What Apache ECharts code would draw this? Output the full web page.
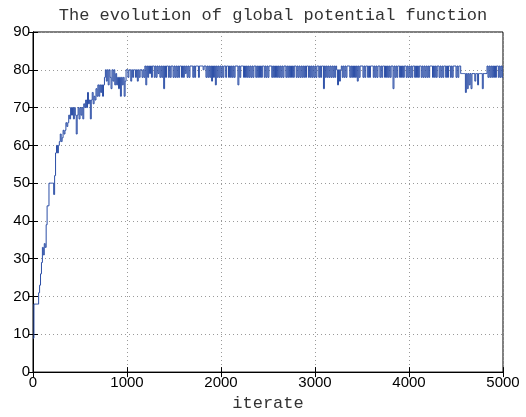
<!DOCTYPE html>
<html>
<head>
<meta charset="utf-8">
<script src="https://cdn.jsdelivr.net/npm/echarts@6/dist/echarts.min.js"></script>
<style>
html,body{margin:0;padding:0;background:#fff;}
#chart{width:526px;height:417px;}
</style>
</head>
<body>
<div id="chart"></div>
<script>
// Chart text
const titleText = "The evolution of global potential function";
const xName = "iterate";
// Axis ticks
const xTicks = [0, 1000, 2000, 3000, 4000, 5000];
const yTicks = [0, 10, 20, 30, 40, 50, 60, 70, 80, 90];
// Potential value read every 10 iterations (iteration 0 .. 5000)
const sampleStep = 10;
const potential = [
  // 0 - 490
  9,18,18,18,18,18,21,23,26,29, 33,31,34,33,39,44,44,50,50,50,
  50,50,47,52,58,60,58,60,61,63, 61,62,64,63,64,66,65,66,68,67,
  70,68,70,67,70,68,63,68,70,67,
  // 500 - 990
  70,68,70,67,71,70,72,70,74,71, 72,67,72,74,71,73,72,75,73,76,
  73,76,74,76,73,76,78,80,77,80, 76,80,78,75,80,77,80,76,79,76,
  78,75,78,73,78,76,78,73,77,80,
  // 1000 - 1490
  80,78,80,80,77,80,78,80,80,78, 80,77,80,78,80,80,78,80,78,81,
  76,81,78,81,79,81,78,81,81,78, 81,78,81,79,81,78,81,78,81,75,
  81,78,81,81,78,81,78,81,81,78,
  // 1500 - 1990
  81,78,81,78,81,78,81,81,78,81, 78,81,79,81,78,81,78,81,81,81,
  78,81,78,81,81,81,78,81,81,81, 81,80,81,81,78,81,78,81,78,81,
  77,81,78,81,76,81,78,81,78,81,
  // 2000 - 2490
  78,81,78,81,81,78,81,81,78,81, 78,81,78,81,78,81,81,81,76,81,
  78,81,81,81,78,81,78,81,78,81, 78,81,78,81,78,81,81,78,81,78,
  81,78,81,78,81,81,78,81,78,81,
  // 2500 - 2990
  78,81,81,81,78,81,78,81,78,81, 78,81,78,81,78,81,78,81,81,78,
  81,78,81,78,81,78,81,78,81,81, 78,81,78,81,78,81,78,81,78,81,
  78,81,81,78,81,78,81,78,81,78,
  // 3000 - 3490
  81,78,81,81,78,81,78,81,81,75, 81,78,81,78,81,78,81,78,81,78,
  81,78,81,80,76,80,77,80,81,78, 81,78,81,78,81,81,81,78,81,78,
  81,78,81,78,81,77,81,78,81,81,
  // 3500 - 3990
  81,78,81,78,81,81,78,81,78,81, 81,81,78,81,78,81,78,81,81,78,
  81,78,81,81,78,81,78,81,78,81, 78,81,81,75,81,78,81,78,81,81,
  78,81,78,81,78,81,81,78,81,78,
  // 4000 - 4490
  81,78,81,78,81,81,78,81,78,81, 78,81,81,78,81,78,81,78,81,78,
  81,78,81,81,81,78,81,78,81,78, 81,81,78,81,78,81,78,81,81,78,
  81,78,81,81,78,81,78,81,81,81,
  // 4500 - 4990
  78,81,78,81,81,79,79,79,79,79, 74,79,75,79,76,79,75,79,79,79,
  77,79,79,76,79,79,79,79,75,79, 79,79,79,81,78,81,78,81,78,81,
  78,81,78,81,81,78,81,78,81,78,
  // 5000
  81
];

// Each item: [iteration, value, next iteration, next value] -> one step of the line
const stepData = potential.slice(0, -1).map((v, i) => [i * sampleStep, v, (i + 1) * sampleStep, potential[i + 1]]);

const lineColor = '#2b4ea6';
const chart = echarts.init(document.getElementById('chart'), null, {renderer: 'canvas'});
const labelFont = {color: '#000', fontSize: 15, fontFamily: 'Liberation Sans, Arial, sans-serif'};
const dotted = {show: true, lineStyle: {color: '#9a9a9a', width: 1, type: [1, 3]}};
const tickStyle = {show: true, inside: true, length: 5, lineStyle: {color: '#000', width: 1}};
const lineStyle = {show: true, lineStyle: {color: '#000', width: 1}};

chart.setOption({
  animation: false,
  backgroundColor: '#fff',
  title: {
    text: titleText,
    left: 268,
    textAlign: 'center',
    top: 2,
    textStyle: {fontFamily: 'Liberation Mono, monospace', fontSize: 17, fontWeight: 'normal', color: '#333'}
  },
  grid: {left: 33, right: 23, top: 32, bottom: 41, show: true, borderColor: '#000', borderWidth: 1, backgroundColor: '#fff'},
  xAxis: [{
    type: 'value', min: xTicks[0], max: xTicks[xTicks.length - 1], interval: xTicks[1] - xTicks[0],
    position: 'bottom',
    axisLine: lineStyle, axisTick: tickStyle,
    axisLabel: Object.assign({margin: 3, formatter: v => String(v)}, labelFont),
    splitLine: dotted,
    name: xName, nameLocation: 'middle', nameGap: 4,
    nameTextStyle: {fontFamily: 'Liberation Mono, monospace', fontSize: 17, color: '#333', verticalAlign: 'top'}
  }, {
    type: 'value', min: xTicks[0], max: xTicks[xTicks.length - 1], interval: xTicks[1] - xTicks[0],
    position: 'top',
    axisLine: lineStyle, axisTick: tickStyle,
    axisLabel: {show: false}, splitLine: {show: false}
  }],
  yAxis: [{
    type: 'value', min: yTicks[0], max: yTicks[yTicks.length - 1], interval: yTicks[1] - yTicks[0],
    position: 'left',
    axisLine: lineStyle, axisTick: tickStyle,
    axisLabel: Object.assign({margin: 3, formatter: v => String(v)}, labelFont),
    splitLine: dotted
  }, {
    type: 'value', min: yTicks[0], max: yTicks[yTicks.length - 1], interval: yTicks[1] - yTicks[0],
    position: 'right',
    axisLine: lineStyle, axisTick: tickStyle,
    axisLabel: {show: false}, splitLine: {show: false}
  }],
  series: [{
    type: 'custom',
    xAxisIndex: 0, yAxisIndex: 0,
    data: stepData,
    dimensions: ['iter', 'value', 'nextIter', 'nextValue'],
    encode: {x: [0, 2], y: [1, 3]},
    clip: true,
    z: 3,
    renderItem: function (params, api) {
      const p0 = api.coord([api.value(0), api.value(1)]);
      const p1 = api.coord([api.value(2), api.value(1)]);
      const p2 = api.coord([api.value(2), api.value(3)]);
      return {
        type: 'polyline',
        shape: {points: [p0, p1, p2]},
        style: {stroke: lineColor, lineWidth: 1, fill: null}
      };
    }
  }]
});
</script>
</body>
</html>
